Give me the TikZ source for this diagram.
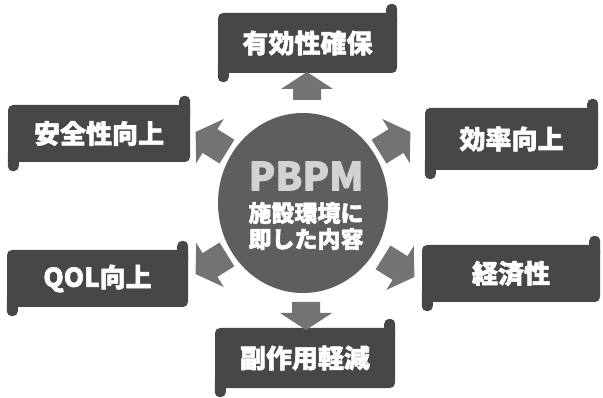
\documentclass[tikz,border=0pt]{standalone}
\usepackage{fontspec}
\setmainfont{Noto Sans CJK JP}[BoldFeatures={FakeBold=2}]
\usetikzlibrary{shapes.geometric}
\definecolor{boxgray}{HTML}{474747}
\definecolor{circgray}{HTML}{5E5E5E}
\definecolor{arrgray}{HTML}{737373}
\definecolor{pbpmgray}{HTML}{D2D2D2}
\tikzset{
  banner/.style={rectangle, rounded corners=5pt, fill=boxgray, text=white,
    font=\bfseries\fontsize{26}{26}\selectfont, inner sep=0pt,
    minimum width=180pt, minimum height=58pt},
  curl/.style={fill=boxgray, rounded corners=5pt},
  pics/barrow/.style={code={
    \fill[arrgray] (-#1,-14) -- (0,-14) -- (0,-26) -- (17,0) -- (0,26) -- (0,14) -- (-#1,14) -- cycle;}},
  midtext/.style={text=white, font=\bfseries\fontsize{23}{23}\selectfont, inner sep=0pt}
}
\newcommand{\curls}[1]{%
  \fill[curl] ([xshift=-11pt,yshift=9pt]#1.north east) rectangle ([yshift=-14pt]#1.north east);
  \fill[curl] ([yshift=14pt]#1.south west) rectangle ([xshift=11pt,yshift=-9pt]#1.south west);
}
\begin{document}
\begin{tikzpicture}[x=1pt,y=-1pt]
\useasboundingbox (0,0) rectangle (603,398);
% centre
\node[ellipse, fill=circgray, minimum width=170pt, minimum height=180pt, inner sep=0pt] (c) at (303,203) {};
\node[text=pbpmgray, font=\bfseries\fontsize{39}{39}\selectfont, inner sep=0pt] (pbpm) at (306,176) {PBPM};
\node[midtext] (l1) at (306,213) {施設環境に};
\node[midtext] (l2) at (306,239) {即した内容};
% banners
\node[banner, minimum width=179pt, minimum height=60pt] (b1) at (307.5,43) {有効性確保};
\node[banner, minimum width=182pt, minimum height=57pt] (b2) at (99,133.5) {安全性向上};
\node[banner, minimum width=173pt, minimum height=62pt] (b3) at (511.5,139) {効率向上};
\node[banner, minimum width=181pt, minimum height=57pt] (b4) at (97.5,278.5) {QOL向上};
\node[banner, minimum width=178pt, minimum height=57pt] (b5) at (511,273.5) {経済性};
\node[banner, minimum width=180pt, minimum height=60pt] (b6) at (305,358) {副作用軽減};
\curls{b1}\curls{b2}\curls{b3}\curls{b4}\curls{b5}\curls{b6}
% arrows
\pic[rotate=90] at (307,89) {barrow=11};
\pic[rotate=-90] at (306,313) {barrow=11};
\pic[rotate=148] at (210,141) {barrow=20};
\pic[rotate=32] at (396,141) {barrow=20};
\pic[rotate=-148] at (210,265) {barrow=20};
\pic[rotate=-32] at (400,268) {barrow=20};
\end{tikzpicture}
\end{document}
